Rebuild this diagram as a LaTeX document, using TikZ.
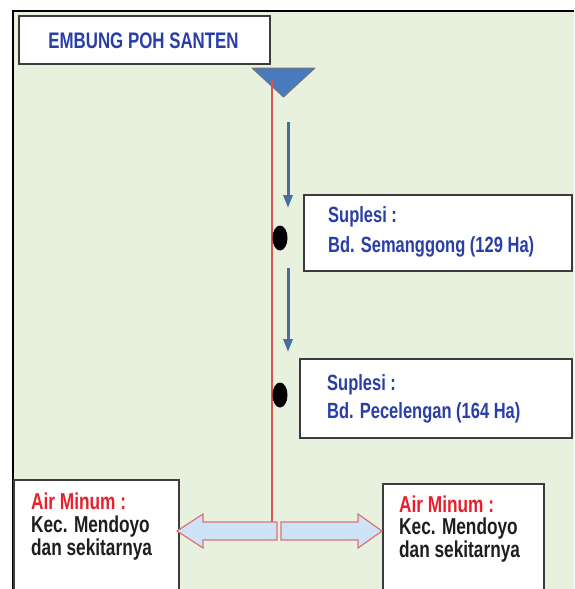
\documentclass[tikz,border=0pt]{standalone}
\usepackage{fontspec}
\newfontfamily\nar[FakeStretch=0.75]{Liberation Sans}
\usetikzlibrary{arrows.meta,shapes.geometric}
\definecolor{bggreen}{RGB}{232,240,222}
\definecolor{txtblue}{RGB}{42,62,168}
\definecolor{txtred}{RGB}{232,32,44}
\definecolor{txtblack}{RGB}{30,30,30}
\definecolor{boxline}{RGB}{60,60,60}
\definecolor{trifill}{RGB}{72,122,192}
\definecolor{flowblue}{RGB}{70,110,152}
\definecolor{redline}{RGB}{214,84,84}
\definecolor{arrfill}{RGB}{206,228,246}
\definecolor{arrline}{RGB}{222,112,122}
\tikzset{
  box/.style={draw=boxline, line width=1.6pt, fill=white, anchor=north west, inner sep=0pt},
  lbl/.style={anchor=base west, inner sep=0pt, font=\nar\bfseries\fontsize{22}{26}\selectfont},
  big/.style={font=\nar\bfseries\fontsize{23}{27}\selectfont},
  flow/.style={draw=flowblue, line width=3pt, -{Triangle[width=9pt,length=13pt]}},
  dotmark/.style={ellipse, fill=black, minimum width=15pt, minimum height=25pt, inner sep=0pt},
  blockarrow/.style={draw=arrline, line width=1.2pt, fill=arrfill, line join=miter}
}
\begin{document}
\begin{tikzpicture}[x=1pt,y=-1pt]
\useasboundingbox (0,0) rectangle (574,589);
% background and frame
\fill[bggreen] (13,11) rectangle (574,589);
\draw[black, line width=2pt] (13,589) -- (13,11) -- (574,11);

% top box
\node[box, minimum width=251pt, minimum height=48pt] (src) at (18,15) {};
\node[anchor=base, inner sep=0pt, text=txtblue, font=\nar\bfseries\fontsize{22.5}{26}\selectfont] (srct) at (143.5,48) {EMBUNG POH SANTEN};

% triangle (reservoir symbol)
\coordinate (tri) at (283.5,68);
\filldraw[fill=trifill, draw=boxline!70, line width=1pt, line join=round] (252,68) -- (315,68) -- (283.5,97) -- cycle;

% boxes
\node[box, minimum width=268pt, minimum height=76pt] (b1) at (303,194) {};
\node[box, minimum width=272pt, minimum height=79pt] (b2) at (299,358) {};
\node[box, minimum width=165pt, minimum height=120pt] (lb) at (13,479) {};
\node[box, minimum width=161pt, minimum height=120pt] (rb) at (382,483) {};

% red supply line
\coordinate (top) at (272,80);
\coordinate (junc) at (272,522);
\draw[redline, line width=1.6pt] (top) -- (junc);

% dots
\node[dotmark] (d1) at (280,238) {};
\node[dotmark] (d2) at (280,395) {};

% blue flow arrows
\coordinate (f1a) at (288,122);
\coordinate (f1b) at (288,208);
\coordinate (f2a) at (288,268);
\coordinate (f2b) at (288,352);
\draw[flow] (f1a) -- (f1b);
\draw[flow] (f2a) -- (f2b);

% block arrows
\coordinate (la) at (177,531);
\coordinate (ra) at (382,531);
\draw[blockarrow] (la) -- (203,514) -- (203,522) -- (277,522) -- (277,540) -- (203,540) -- (203,548) -- cycle;
\draw[blockarrow] (ra) -- (358,514) -- (358,522) -- (281,522) -- (281,540) -- (358,540) -- (358,548) -- cycle;

% texts
\node[lbl, text=txtblue] (b1t1) at (328,222) {Suplesi :};
\node[lbl, text=txtblue] (b1t2) at (328,252) {Bd. Semanggong (129 Ha)};
\node[lbl, text=txtblue] (b2t1) at (327,390) {Suplesi :};
\node[lbl, text=txtblue] (b2t2) at (327,418) {Bd. Pecelengan (164 Ha)};

\node[lbl, big, text=txtred] (lt1) at (31,509) {Air Minum :};
\node[lbl, big, text=txtblack] (lt2) at (31,532) {Kec. Mendoyo};
\node[lbl, big, text=txtblack] (lt3) at (31,555) {dan sekitarnya};

\node[lbl, big, text=txtred] (rt1) at (399,512) {Air Minum :};
\node[lbl, big, text=txtblack] (rt2) at (399,534) {Kec. Mendoyo};
\node[lbl, big, text=txtblack] (rt3) at (399,557) {dan sekitarnya};
\end{tikzpicture}
\end{document}
